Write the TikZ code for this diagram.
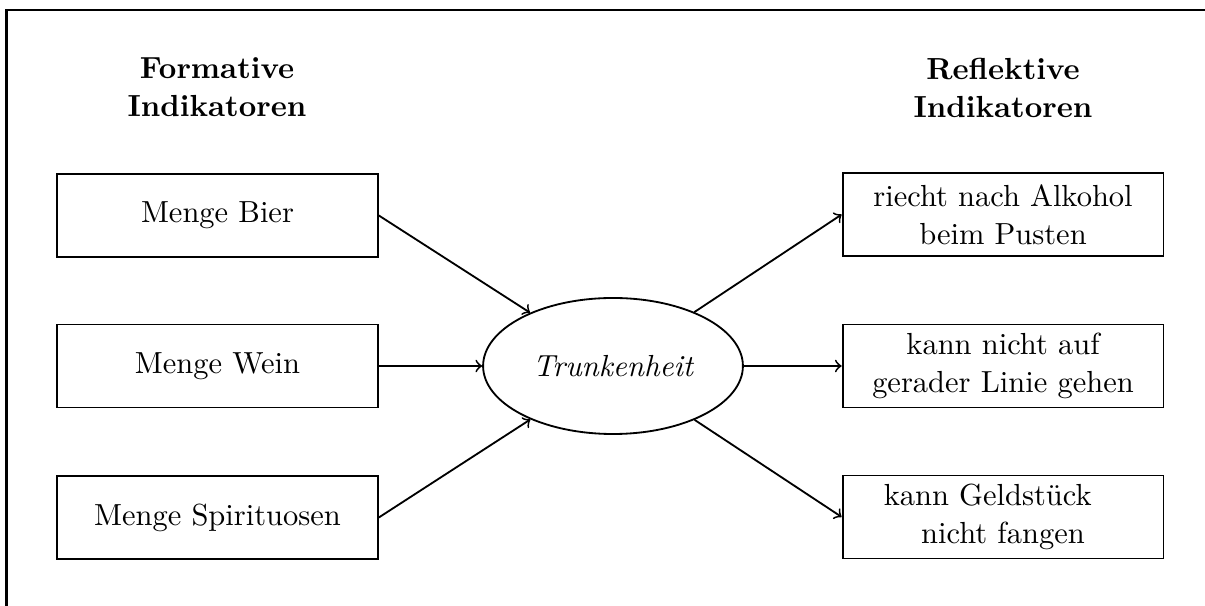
\documentclass[tikz,border=0pt]{standalone}
\usetikzlibrary{shapes.geometric}
\begin{document}
\begin{tikzpicture}[x=0.3279pt, y=-0.3279pt,
  every node/.style={font=\fontsize{10}{12.5}\selectfont},
  indbox/.style={draw, line width=0.6pt, align=center, minimum width=105.2pt, minimum height=27.2pt, inner sep=0pt},
  construct/.style={draw, ellipse, line width=0.6pt, minimum width=85.2pt, minimum height=44.6pt, inner sep=0pt},
  heading/.style={align=center, font=\fontsize{10}{12.5}\selectfont\bfseries},
  link/.style={->, line width=0.6pt}]
\useasboundingbox (0,0) rectangle (1205,606);

% outer frame (top and left edge)
\coordinate (fbl) at (6.5,606);
\coordinate (ftl) at (6.5,10);
\coordinate (ftr) at (1205,10);
\draw[line width=0.85pt] (fbl) -- (ftl) -- (ftr);

% column headings
\node[heading] (hl) at (217,87.5) {Formative\\Indikatoren};
\node[heading] (hr) at (1003,87.5) {Reflektive\\Indikatoren};

% formative indicators
\node[indbox] (b1) at (217.5,215.5) {Menge Bier};
\node[indbox] (b2) at (217.5,366) {Menge Wein};
\node[indbox] (b3) at (217.5,517.5) {Menge Spirituosen};

% latent construct
\node[construct] (tr) at (613,366) {\itshape Trunkenheit};

% reflective indicators
\node[indbox] (r1) at (1003,214.5) {riecht nach Alkohol\\beim Pusten};
\node[indbox] (r2) at (1003,366) {kann nicht auf\\gerader Linie gehen};
\node[indbox] (r3) at (1003,517) {kann Geldstück\hspace*{1em}\\nicht fangen};

% connectors
\draw[link] (b1.east) -- (tr);
\draw[link] (b2.east) -- (tr);
\draw[link] (b3.east) -- (tr);
\draw[link] (tr) -- (r1.west);
\draw[link] (tr) -- (r2.west);
\draw[link] (tr) -- (r3.west);
\end{tikzpicture}
\end{document}
